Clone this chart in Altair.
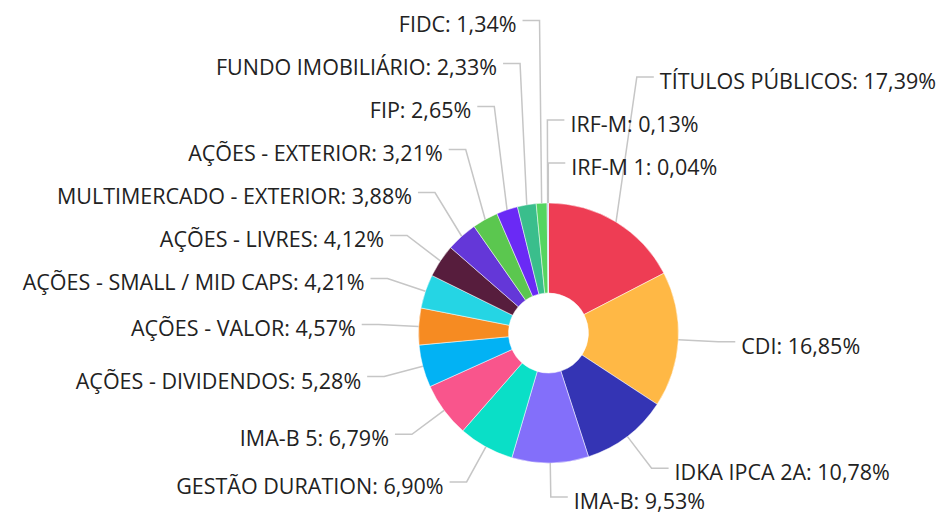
import math
import altair as alt
import pandas as pd

# ---- data ----
categories = [
    "TÍTULOS PÚBLICOS", "CDI", "IDKA IPCA 2A", "IMA-B", "GESTÃO DURATION", "IMA-B 5",
    "AÇÕES - DIVIDENDOS", "AÇÕES - VALOR", "AÇÕES - SMALL / MID CAPS", "AÇÕES - LIVRES",
    "MULTIMERCADO - EXTERIOR", "AÇÕES - EXTERIOR", "FIP", "FUNDO IMOBILIÁRIO", "FIDC",
    "IRF-M", "IRF-M 1",
]
shares = [17.39, 16.85, 10.78, 9.53, 6.90, 6.79, 5.28, 4.57, 4.21, 4.12,
          3.88, 3.21, 2.65, 2.33, 1.34, 0.13, 0.04]
colors = [
    "#EE3D54", "#FFB845", "#3434B4", "#836FFA", "#0ADFC7", "#F9558C",
    "#02B2F4", "#F68B22", "#25D5E4", "#571D3D", "#6437D8", "#5BC74F",
    "#6A2AF5", "#3ABE8C", "#55D560", "#8E9BE0", "#A0A0A0",
]

# ---- layout parameters (view pixels) ----
W, H = 931, 507
CX, CY = 540.5, 325.0          # pie centre inside the view
R_OUT, R_IN = 130, 40
R_ELBOW = 170                  # radius where leader line bends
LEN2 = 17                      # horizontal part of the leader line
TEXT_GAP = 6
MIN_SEP = 43                   # vertical spacing between labels
Y_TOP, Y_BOTTOM = 10, 489      # label bounds inside the view

total = sum(shares)
rows = []
cum = 0.0
for i, (name, v) in enumerate(zip(categories, shares)):
    a0 = cum / total * 2 * math.pi
    cum += v
    a1 = cum / total * 2 * math.pi
    mid = (a0 + a1) / 2
    ex, ey = R_OUT * math.sin(mid), -R_OUT * math.cos(mid)      # y downwards
    nx, ny = R_ELBOW * math.sin(mid), -R_ELBOW * math.cos(mid)
    side = "right" if nx >= -2 else "left"
    half = "upper" if ny < 0 else "lower"
    rows.append(dict(idx=i, name=name, v=v, ex=ex, ey=ey, nx=nx, ny=ny,
                     side=side, half=half, ly=ny))

# stack labels on each side / half, pushing away from the horizontal axis
for side in ("left", "right"):
    for half in ("upper", "lower"):
        grp = [r for r in rows if r["side"] == side and r["half"] == half]
        grp.sort(key=lambda r: r["idx"], reverse=(side == "left"))  # top-down order
        if half == "upper":
            nxt = None
            for r in reversed(grp):
                r["ly"] = r["ny"] if nxt is None else min(r["ny"], nxt - MIN_SEP)
                nxt = r["ly"]
        else:
            prev = None
            for r in grp:
                r["ly"] = r["ny"] if prev is None else max(r["ny"], prev + MIN_SEP)
                prev = r["ly"]
for r in rows:
    r["ly"] = max(Y_TOP - CY, min(Y_BOTTOM - CY, r["ly"]))

pie_df = pd.DataFrame({"label": categories, "share": shares, "idx": list(range(len(categories)))})

line_rows, text_rows = [], []
for r in rows:
    d = 1 if r["side"] == "right" else -1
    pts = [(r["ex"], r["ey"]), (r["nx"], r["ly"]), (r["nx"] + d * LEN2, r["ly"])]
    for k, (px, py) in enumerate(pts):
        line_rows.append(dict(label=r["name"], pt=k, x=px, y=-py))
    txt = f"{r['name']}: " + f"{r['v']:.2f}".replace(".", ",") + "%"
    text_rows.append(dict(label=r["name"], side=r["side"], text=txt,
                          x=r["nx"] + d * (LEN2 + TEXT_GAP), y=-r["ly"]))
line_df = pd.DataFrame(line_rows)
text_df = pd.DataFrame(text_rows)

xsc = alt.Scale(domain=[-CX, W - CX], nice=False, zero=False)
ysc = alt.Scale(domain=[-(H - CY), CY], nice=False, zero=False)

arcs = alt.Chart(pie_df).mark_arc(
    innerRadius=R_IN, outerRadius=R_OUT, stroke="#ffffff", strokeWidth=0.5
).encode(
    theta=alt.Theta("share:Q", stack=True),
    order=alt.Order("idx:Q", sort="ascending"),
    color=alt.Color("label:N", scale=alt.Scale(domain=categories, range=colors), legend=None),
    x=alt.X(datum=0, type="quantitative", scale=xsc, axis=None),
    y=alt.Y(datum=0, type="quantitative", scale=ysc, axis=None),
)

lines = alt.Chart(line_df).mark_line(color="#c6c6c6", strokeWidth=1.5).encode(
    x=alt.X("x:Q", scale=xsc, axis=None),
    y=alt.Y("y:Q", scale=ysc, axis=None),
    detail="label:N",
    order="pt:Q",
)

def text_layer(side, align):
    return alt.Chart(text_df).transform_filter(
        alt.datum.side == side
    ).mark_text(
        align=align, baseline="middle", dy=6, font="Open Sans", fontSize=21.5, color="#222222"
    ).encode(
        x=alt.X("x:Q", scale=xsc, axis=None),
        y=alt.Y("y:Q", scale=ysc, axis=None),
        text="text:N",
    )

chart = alt.layer(arcs, lines, text_layer("right", "left"), text_layer("left", "right")).properties(
    width=W, height=H, padding=0, autosize=alt.AutoSizeParams(type="none")
).configure_view(strokeWidth=0)

chart.save("out.html", embed_options={"renderer": "svg", "actions": False})
